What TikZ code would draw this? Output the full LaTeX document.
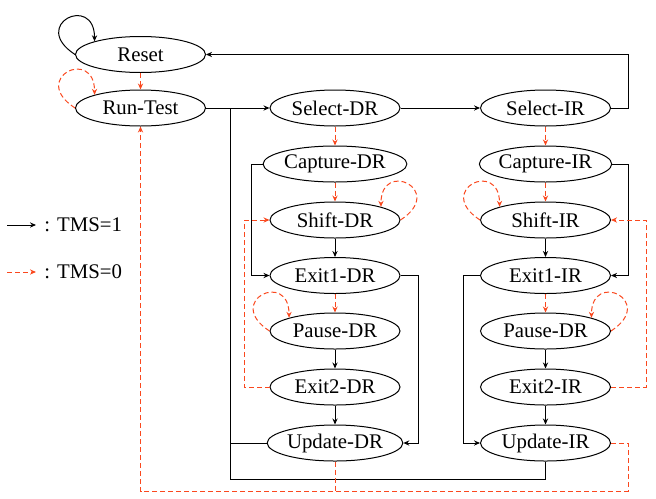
\documentclass[tikz,border=0pt]{standalone}
\usepackage{fontspec}
\setmainfont{Liberation Serif}
\newfontfamily\statefont{Liberation Serif}
\usetikzlibrary{shapes.geometric,arrows.meta}
\definecolor{tmsred}{RGB}{250,72,30}
\begin{document}
\begin{tikzpicture}[x=0.5pt,y=-0.5pt,
  every node/.style={font=\statefont\fontsize{10.4}{12}\selectfont},
  st/.style={draw,ellipse,minimum width=65pt,minimum height=18pt,inner sep=0pt,line width=0.5pt},
  one/.style={draw=black,line width=0.5pt,-{Stealth[length=3pt,width=2.6pt]}},
  zero/.style={draw=tmsred,line width=0.5pt,dash pattern=on 2.5pt off 1.5pt,-{Stealth[length=3pt,width=2.6pt]}},
  zerol/.style={draw=tmsred,line width=0.5pt,dash pattern=on 2.5pt off 1.5pt},
  onel/.style={draw=black,line width=0.5pt}]
\useasboundingbox (0,0) rectangle (656,498);
% states
\node[st] (reset) at (140.5,54.5) {Reset};
\node[st] (run) at (140.5,108) {Run-Test};
\node[st] (sdr) at (335,108) {Select-DR};
\node[st] (cdr) at (335,164) {Capture-DR};
\node[st] (shdr) at (335,220) {Shift-DR};
\node[st] (e1dr) at (335,275.5) {Exit1-DR};
\node[st] (pdr) at (335,331) {Pause-DR};
\node[st] (e2dr) at (335,387) {Exit2-DR};
\node[st] (udr) at (335,443) {Update-DR};
\node[st] (sir) at (545.5,108) {Select-IR};
\node[st] (cir) at (545.5,164) {Capture-IR};
\node[st] (shir) at (545.5,220) {Shift-IR};
\node[st] (e1ir) at (545.5,275.5) {Exit1-IR};
\node[st] (pir) at (545.5,331) {Pause-DR};
\node[st] (e2ir) at (545.5,387) {Exit2-IR};
\node[st] (uir) at (545.5,443) {Update-IR};
% helper coordinates
\coordinate (jA) at (230,108);
\coordinate (jB) at (230,479);
\coordinate (bot) at (140.5,491);
% self loops
\draw[one] (reset.west) .. controls +(-46,-30) and +(0,-48) .. (reset.164);
\draw[zero] (run.west) .. controls +(-46,-30) and +(0,-48) .. (run.164);
\draw[zero] (shdr.east) .. controls +(46,-30) and +(0,-48) .. (shdr.16);
\draw[zero] (pdr.west) .. controls +(-46,-30) and +(0,-48) .. (pdr.164);
\draw[zero] (shir.west) .. controls +(-46,-30) and +(0,-48) .. (shir.164);
\draw[zero] (pir.east) .. controls +(46,-30) and +(0,-48) .. (pir.16);
% TMS=0 straight
\draw[zero] (reset) -- (run);
\draw[zero] (sdr) -- (cdr);
\draw[zero] (cdr) -- (shdr);
\draw[zero] (e1dr) -- (pdr);
\draw[zero] (sir) -- (cir);
\draw[zero] (cir) -- (shir);
\draw[zero] (e1ir) -- (pir);
% TMS=1 straight
\draw[one] (run) -- (sdr);
\draw[one] (sdr) -- (sir);
\draw[one] (shdr) -- (e1dr);
\draw[one] (pdr) -- (e2dr);
\draw[one] (e2dr) -- (udr);
\draw[one] (shir) -- (e1ir);
\draw[one] (pir) -- (e2ir);
\draw[one] (e2ir) -- (uir);
% TMS=1 routed
\draw[one] (sir.east) -| (628,54.5) -- (reset.east);
\draw[one] (cdr.west) -| (251,275.5) -- (e1dr.west);
\draw[one] (e1dr.east) -| (418,443) -- (udr.east);
\draw[one] (cir.east) -| (628,275.5) -- (e1ir.east);
\draw[one] (e1ir.west) -| (463,443) -- (uir.west);
\draw[onel] (uir.south) |- (jB) -- (jA);
\draw[onel] (udr.west) -- (230,443);
% TMS=0 routed
\draw[zero] (e2dr.west) -| (244,220) -- (shdr.west);
\draw[zero] (e2ir.east) -| (646,220) -- (shir.east);
\draw[zero] (uir.east) -| (628,491) -- (bot) -- (run.south);
\draw[zerol] (udr.south) -- (335,491);
% legend
\coordinate (l1a) at (7,225);
\coordinate (l1b) at (36,225);
\coordinate (l2a) at (7,272);
\coordinate (l2b) at (36,272);
\draw[one] (l1a) -- (l1b);
\draw[zero] (l2a) -- (l2b);
\node[anchor=west,inner sep=0pt] (t1) at (44,225) {: TMS=1};
\node[anchor=west,inner sep=0pt] (t0) at (44,272) {: TMS=0};
\end{tikzpicture}
\end{document}
